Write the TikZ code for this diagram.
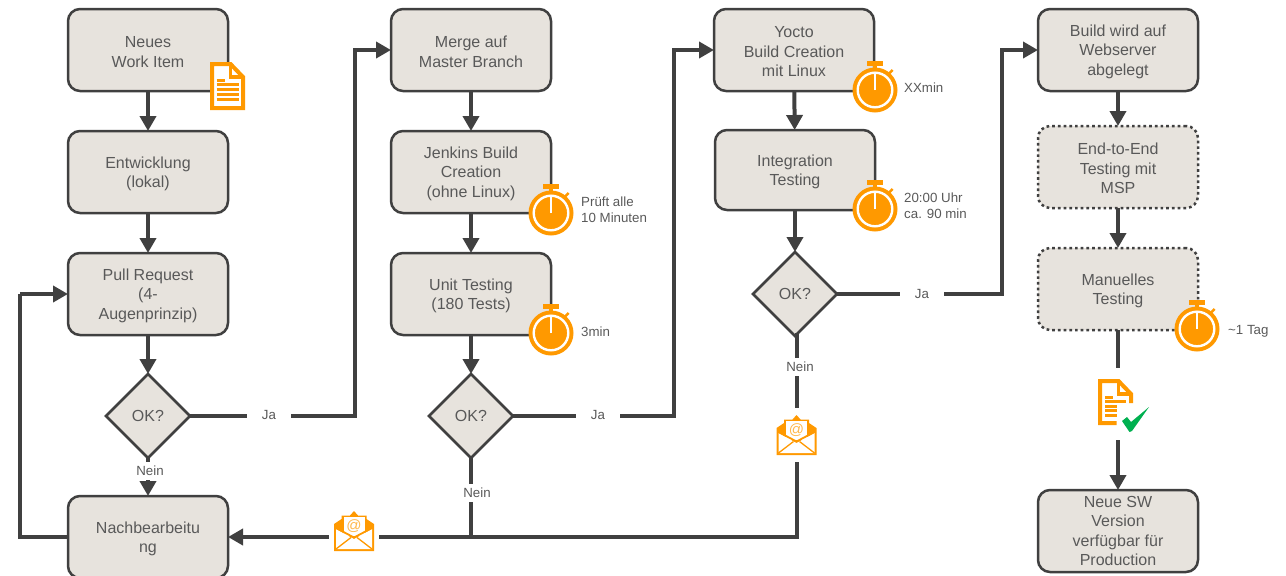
\documentclass[tikz,border=0pt]{standalone}
\usepackage{fontspec}
\setmainfont{Liberation Sans}
\usepackage{tikz}
\usetikzlibrary{shapes.geometric, arrows.meta}
\definecolor{boxfill}{HTML}{E7E3DD}
\definecolor{linedark}{HTML}{404040}
\definecolor{textgray}{HTML}{595959}
\definecolor{iconorange}{HTML}{FF9900}
\definecolor{checkgreen}{HTML}{00B050}
\newcommand{\lift}{\rule{0pt}{15pt}}

\tikzset{
    box/.style={draw=linedark, line width=2.5pt, fill=boxfill, rounded corners=12pt,
        minimum width=160pt, minimum height=82pt, inner sep=2pt, align=center, outer sep=0pt,
        text=textgray, font=\fontsize{16}{19.5}\selectfont},
    dottedbox/.style={box, dash pattern=on 2.7pt off 3pt},
    decision/.style={diamond, aspect=1, draw=linedark, line width=2.5pt, fill=boxfill,
        minimum width=84pt, minimum height=84pt, inner sep=0pt, outer sep=0pt,
        text=textgray, font=\fontsize{16}{18}\selectfont},
    link/.style={draw=linedark, line width=4pt, -{Triangle[width=16pt,length=15pt]}},
    plainlink/.style={draw=linedark, line width=4pt},
    lbl/.style={fill=white, inner xsep=2.5pt, inner ysep=4pt, text=textgray, font=\fontsize{13.3}{16}\selectfont},
    note/.style={anchor=west, align=left, inner sep=0pt, text=textgray, font=\fontsize{13.3}{16}\selectfont},
    gap/.style={fill=white, inner sep=0pt, minimum width=50pt, minimum height=54pt},
    stopwatch/.pic={
        \fill[iconorange] (-8,-29) rectangle (8,-24);
        \fill[iconorange] (-2,-25) rectangle (2,-20);
        \draw[iconorange, line width=2.5pt] (12.7,-15) -- (17.7,-20);
        \fill[iconorange] (0,0) circle (22.5);
        \draw[white, line width=2.4pt] (0,0) circle (17.3);
        \draw[white, line width=2pt] (0,0) -- (0,-16);
    },
    docicon/.pic={
        \draw[iconorange, line width=4pt, fill=white, line join=miter] (-15.5,-22) -- (3,-22) -- (15.5,-9) -- (15.5,22) -- (-15.5,22) -- cycle;
        \draw[iconorange, line width=3.5pt] (3,-22) -- (3,-9) -- (15.5,-9);
        \draw[iconorange, line width=3pt] (-11,-6) -- (-2.5,-6);
        \foreach \y in {-2,3,8,13} {
            \draw[iconorange, line width=3pt] (-11,\y) -- (11.5,\y);
        }
    },
    doccheck/.pic={
        \draw[iconorange, line width=4pt, line join=miter] (1,21) -- (-15.5,21) -- (-15.5,-21) -- (3,-21) -- (15.5,-8) -- (15.5,1);
        \draw[iconorange, line width=3.5pt] (3,-21) -- (3,-8) -- (15.5,-8);
        \draw[iconorange, line width=3pt] (-10.5,-4.7) -- (-2.5,-4.7);
        \draw[iconorange, line width=3pt] (-10.5,-0.3) -- (10.5,-0.3);
        \foreach \y in {4,8.7,13.7} {
            \draw[iconorange, line width=3pt] (-10.5,\y) -- (1.5,\y);
        }
        \fill[checkgreen] (6.5,19) -- (11.5,15) -- (15.5,20) -- (33.5,5) -- (16.5,29) -- (14,30) -- cycle;
    },
    mailicon/.pic={
        \fill[iconorange] (-20,-7) -- (-12.5,-12) -- (-12.5,-15.5) -- (-4,-15.5) -- (0,-20) -- (4,-15.5)
            -- (12.5,-15.5) -- (12.5,-12) -- (20,-7) -- (20,20) -- (-20,20) -- cycle;
        \fill[white] (-10.5,-14) rectangle (10.5,5);
        \fill[white] (-18,-2) -- (0,8) -- (18,-2) -- (18,18) -- (-18,18) -- cycle;
        \draw[iconorange, line width=1.8pt] (-18,-3) -- (0,6.5) -- (18,-3);
        \draw[iconorange, line width=1.3pt] (-18,18) -- (-3,6.5) (18,18) -- (3,6.5);
        \node[text=iconorange!70, inner sep=0pt, font=\fontsize{15}{15}\selectfont] (-at) at (0,-5) {@};
    },
}

\begin{document}
\begin{tikzpicture}[x=1pt, y=-1pt]
\def\colA{148}
\def\colB{471}
\def\colC{794}
\def\colD{1118}
\useasboundingbox (0,0) rectangle (1286,576);

\node[box] (neues) at (\colA,50) {\lift Neues\\Work Item};
\node[box] (entw) at (\colA,172) {\lift Entwicklung\\(lokal)};
\node[box] (pull) at (\colA,294) {\lift Pull Request\\(4-\\Augenprinzip)};
\node[decision] (oka) at (\colA,416) {OK?};
\node[box] (nach) at (\colA,537) {\lift Nachbearbeitu\\ng};

\node[box] (merge) at (\colB,50) {\lift Merge auf\\Master Branch};
\node[box] (jenkins) at (\colB,172) {\lift Jenkins Build\\Creation\\(ohne Linux)};
\node[box] (unit) at (\colB,294) {\lift Unit Testing\\(180 Tests)};
\node[decision] (okb) at (\colB,416) {OK?};

\node[box] (yocto) at (\colC,50) {\lift Yocto\\Build Creation\\mit Linux};
\node[box, minimum height=80pt] (integ) at (\colC+1,170) {\lift Integration\\Testing};
\node[decision] (okc) at (\colC+1,294) {OK?};

\node[box] (web) at (\colD,50) {\lift Build wird auf\\Webserver\\abgelegt};
\node[dottedbox] (ete) at (\colD,167) {\lift End-to-End\\Testing mit\\MSP};
\node[dottedbox] (manuell) at (\colD,289) {\lift Manuelles\\Testing};
\node[box] (neusw) at (\colD,531) {Neue SW\\Version\\verfügbar für\\Production};

\coordinate (upa) at (355,416);
\coordinate (upb) at (674,416);
\coordinate (upc) at (1002,294);
\coordinate (backa) at (20,537);
\coordinate (backb) at (20,294);
\coordinate (drop) at (797,336);

\draw[link] (neues) -- (entw);
\draw[link] (entw) -- (pull);
\draw[link] (pull) -- (oka);
\draw[link] (oka) -- (nach);
\draw[link] (merge) -- (jenkins);
\draw[link] (jenkins) -- (unit);
\draw[link] (unit) -- (okb);
\draw[link] (yocto) -- (integ);
\draw[link] (integ) -- (okc);
\draw[link] (web) -- (ete);
\draw[link] (ete) -- (manuell);
\draw[link] (manuell) -- (neusw);

\draw[link] (oka.east) -- (upa) |- (merge.west);
\draw[link] (okb.east) -- (upb) |- (yocto.west);
\draw[link] (okc.east) -- (upc) |- (web.west);
\draw[plainlink] (nach.west) -- (backa) -- (backb);
\draw[link] (backb) -- (pull.west);
\draw[link, shorten <=-3pt] (drop) |- (nach.east);
\draw[plainlink] (okb.south) -- (okb.south |- nach.east);

\node[lbl, minimum width=44pt] (jaa) at (269,415) {Ja};
\node[lbl, minimum width=44pt] (jab) at (598,415) {Ja};
\node[lbl, minimum width=44pt] (jac) at (922,294) {Ja};
\node[lbl] (neina) at (150,471) {Nein};
\node[lbl] (neinb) at (477,493) {Nein};
\node[lbl] (neinc) at (800,367) {Nein};

\node[gap] (maila) at (354,531) {};
\node[gap] (mailb) at (796.5,435) {};
\node[gap, minimum height=72pt] (docb) at (1118,404) {};

\foreach \x/\y in {551/213, 551/333, 875/90, 875/209, 1197/329} {
    \pic at (\x,\y) {stopwatch};
}
\pic at (227.5,86) {docicon};
\pic at (1115.5,402) {doccheck};
\pic at (maila) {mailicon};
\pic at (mailb) {mailicon};

\node[note] (notea) at (581,210) {Prüft alle\\10 Minuten};
\node[note] (noteb) at (581,332) {3min};
\node[note] (notec) at (904,88) {XXmin};
\node[note] (noted) at (904,206) {20:00 Uhr\\ca. 90 min};
\node[note] (notee) at (1228,331) {\textasciitilde 1 Tag};
\end{tikzpicture}
\end{document}
